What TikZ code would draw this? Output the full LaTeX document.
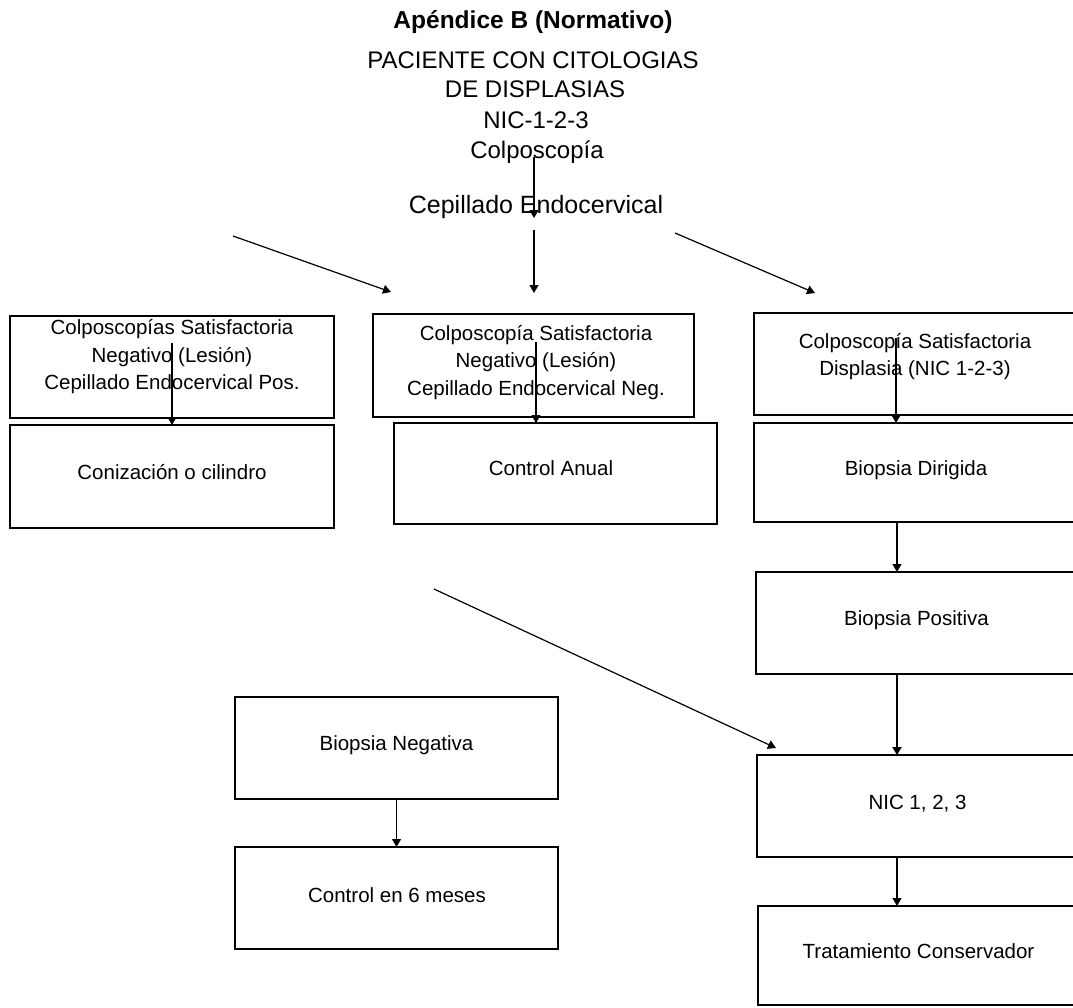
\documentclass[tikz,border=0pt]{standalone}
\usepackage{fontspec}
\setmainfont{Liberation Sans}
\usetikzlibrary{arrows.meta}
\begin{document}
\begin{tikzpicture}[x=1pt,y=-1pt,
  box/.style={draw, line width=1.4pt, inner sep=0pt, outer sep=0pt},
  hdr/.style={inner sep=0pt, font=\fontsize{24}{30}\selectfont, text height=17.3pt, text depth=0pt},
  btxt/.style={inner sep=0pt, align=center, font=\fontsize{20.5}{27.5}\selectfont, text height=14.7pt, text depth=0pt},
  arr/.style={-{Triangle[length=8pt,width=9pt]}, line width=1.2pt},
  thickarr/.style={-{Triangle[length=8pt,width=9pt]}, line width=2.2pt}]
\useasboundingbox (0,0) rectangle (1073,1007);
\fill[white] (0,0) rectangle (1073,1007);
\clip (0,0) rectangle (1073,1007);

% header
\node[hdr, font=\bfseries\fontsize{24.5}{30}\selectfont] (title) at (533,20) {Apéndice B (Normativo)};
\node[hdr] (pac) at (533,60) {PACIENTE CON CITOLOGIAS};
\node[hdr] (dis) at (535,89) {DE DISPLASIAS};
\node[hdr] (nic) at (536,120) {NIC-1-2-3};
\node[hdr] (col) at (537,150) {Colposcopía};
\node[hdr, font=\fontsize{25}{30}\selectfont] (cep) at (536,205) {Cepillado Endocervical};

% boxes
\node[box, minimum width=324pt, minimum height=102pt] (A)  at (172,367) {};
\node[box, minimum width=324pt, minimum height=103pt] (A2) at (172,476.5) {};
\node[box, minimum width=321pt, minimum height=103pt] (B)  at (533.5,365.5) {};
\node[box, minimum width=323pt, minimum height=101pt] (B2) at (555.5,473.5) {};
\node[box, minimum width=324pt, minimum height=102pt] (C)  at (916,364) {};
\node[box, minimum width=324pt, minimum height=99pt]  (C2) at (916,472.5) {};
\node[box, minimum width=322pt, minimum height=102pt] (C3) at (917,623) {};
\node[box, minimum width=321pt, minimum height=102pt] (C4) at (917.5,806) {};
\node[box, minimum width=320pt, minimum height=99pt]  (C5) at (918,955.5) {};
\node[box, minimum width=323pt, minimum height=102pt] (D1) at (396.5,748) {};
\node[box, minimum width=323pt, minimum height=102pt] (D2) at (396.5,898) {};

% box texts
\node[btxt, text height=69.7pt] (At) at (172,355) {Colposcopías Satisfactoria\\Negativo (Lesión)\\Cepillado Endocervical Pos.};
\node[btxt, text height=69.7pt] (Bt) at (536,360.5) {Colposcopía Satisfactoria\\Negativo (Lesión)\\Cepillado Endocervical Neg.};
\node[btxt, text height=42.2pt] (Ct) at (915,354.5) {Colposcopía Satisfactoria\\Displasia (NIC 1-2-3)};
\node[btxt] (A2t) at (172,472) {Conización o cilindro};
\node[btxt] (B2t) at (551,468) {Control Anual};
\node[btxt] (C2t) at (916,468) {Biopsia Dirigida};
\node[btxt] (C3t) at (916.5,618) {Biopsia Positiva};
\node[btxt] (C4t) at (917.5,802) {NIC 1, 2, 3};
\node[btxt] (C5t) at (918.5,951) {Tratamiento Conservador};
\node[btxt] (D1t) at (396.5,743) {Biopsia Negativa};
\node[btxt] (D2t) at (397,895) {Control en 6 meses};

% coordinates
\coordinate (t1s) at (534,157);
\coordinate (t1e) at (534,218);
\coordinate (t2s) at (534,230);
\coordinate (t2e) at (534,293);
\coordinate (Ls) at (233,236);
\coordinate (Le) at (391,292);
\coordinate (Rs) at (675,233);
\coordinate (Re) at (815,293);
\coordinate (Ms) at (434,589);
\coordinate (Me) at (776,748);
\coordinate (As) at (172,343);
\coordinate (Bs) at (536,342);
\coordinate (Cs) at (896,338);
\coordinate (ca) at (897,0);

% connectors
\draw[arr] (t1s) -- (t1e);
\draw[arr] (t2s) -- (t2e);
\draw[arr] (Ls) -- (Le);
\draw[arr] (Rs) -- (Re);
\draw[arr] (Ms) -- (Me);
\draw[arr] (As) -- (A2.north -| As);
\draw[arr] (Bs) -- (B2.north -| Bs);
\draw[arr] (Cs) -- (C2.north -| Cs);
\draw[arr] (C2.south -| ca) -- (C3.north -| ca);
\draw[thickarr] (C3.south -| ca) -- (C4.north -| ca);
\draw[arr] (C4.south -| ca) -- (C5.north -| ca);
\draw[arr] (D1.south) -- (D2.north);
\end{tikzpicture}
\end{document}
